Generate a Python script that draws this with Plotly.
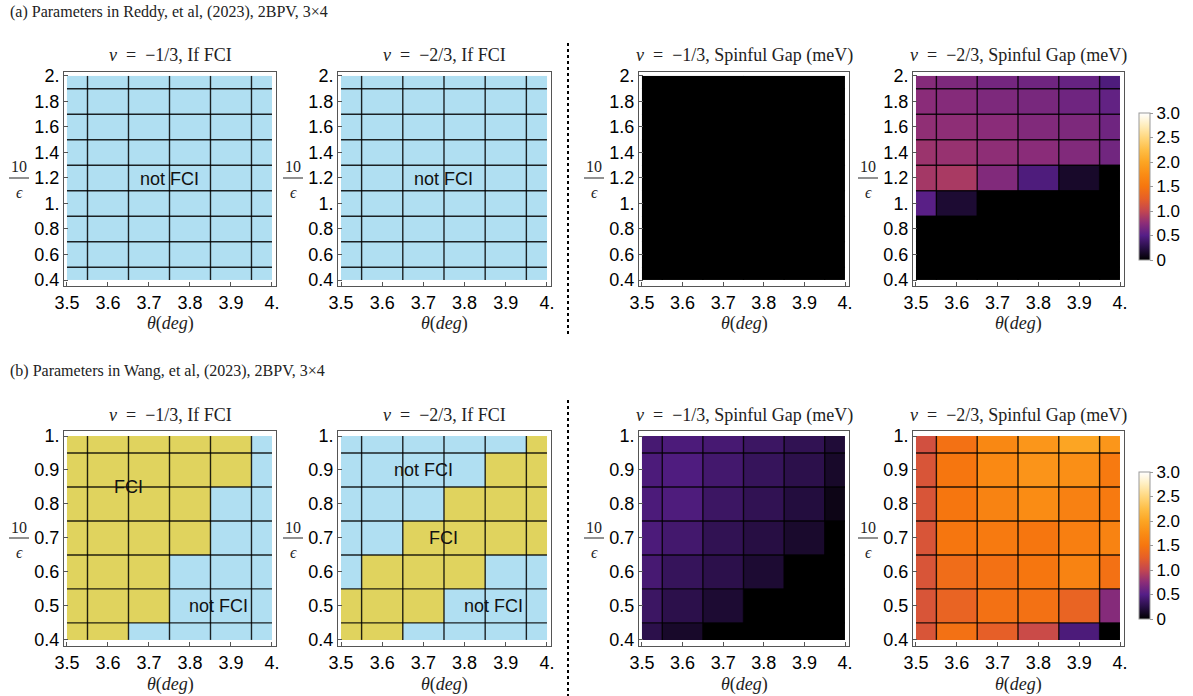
import numpy as np
import plotly.graph_objects as go

# ---------------- data ----------------
theta = [3.5, 3.6, 3.7, 3.8, 3.9, 4.0]
eps_a = [0.4, 0.6, 0.8, 1.0, 1.2, 1.4, 1.6, 1.8, 2.0]
eps_b = [0.4, 0.5, 0.6, 0.7, 0.8, 0.9, 1.0]

x_tickvals = [3.5, 3.6, 3.7, 3.8, 3.9, 4.0]
x_ticktext = ["3.5", "3.6", "3.7", "3.8", "3.9", "4."]
ya_tickvals = [0.4, 0.6, 0.8, 1.0, 1.2, 1.4, 1.6, 1.8, 2.0]
ya_ticktext = ["0.4", "0.6", "0.8", "1.", "1.2", "1.4", "1.6", "1.8", "2."]
yb_tickvals = [0.4, 0.5, 0.6, 0.7, 0.8, 0.9, 1.0]
yb_ticktext = ["0.4", "0.5", "0.6", "0.7", "0.8", "0.9", "1."]
cb_tickvals = [0, 0.5, 1.0, 1.5, 2.0, 2.5, 3.0]
cb_ticktext = ["0", "0.5", "1.0", "1.5", "2.0", "2.5", "3.0"]

# If FCI flags (1 = FCI, 0 = not FCI); rows from lowest 10/eps upward
fci_a_13 = [[0, 0, 0, 0, 0, 0] for _ in eps_a]
fci_a_23 = [[0, 0, 0, 0, 0, 0] for _ in eps_a]
fci_b_13 = [
    [1, 1, 0, 0, 0, 0],  # 0.4
    [1, 1, 1, 0, 0, 0],  # 0.5
    [1, 1, 1, 0, 0, 0],  # 0.6
    [1, 1, 1, 1, 0, 0],  # 0.7
    [1, 1, 1, 1, 0, 0],  # 0.8
    [1, 1, 1, 1, 1, 0],  # 0.9
    [1, 1, 1, 1, 1, 0],  # 1.0
]
fci_b_23 = [
    [1, 1, 0, 0, 0, 0],  # 0.4
    [1, 1, 1, 0, 0, 0],  # 0.5
    [0, 1, 1, 1, 0, 0],  # 0.6
    [0, 0, 1, 1, 1, 1],  # 0.7
    [0, 0, 0, 1, 1, 1],  # 0.8
    [0, 0, 0, 0, 1, 1],  # 0.9
    [0, 0, 0, 0, 0, 1],  # 1.0
]

# Spinful gap (meV); rows from lowest 10/eps upward
gap_a_13 = [[0, 0, 0, 0, 0, 0] for _ in eps_a]
gap_a_23 = [
    [0, 0, 0, 0, 0, 0],                    # 0.4
    [0, 0, 0, 0, 0, 0],                    # 0.6
    [0, 0, 0, 0, 0, 0],                    # 0.8
    [0.52, 0.18, 0, 0, 0, 0],              # 1.0
    [0.86, 0.88, 0.70, 0.46, 0.15, 0],     # 1.2
    [0.82, 0.80, 0.76, 0.74, 0.70, 0.63],  # 1.4
    [0.77, 0.76, 0.74, 0.70, 0.68, 0.62],  # 1.6
    [0.74, 0.72, 0.68, 0.66, 0.62, 0.56],  # 1.8
    [0.72, 0.68, 0.64, 0.62, 0.58, 0.46],  # 2.0
]
gap_b_13 = [
    [0.27, 0.15, 0, 0, 0, 0],              # 0.4
    [0.36, 0.27, 0.18, 0, 0, 0],           # 0.5
    [0.42, 0.33, 0.27, 0.18, 0, 0],        # 0.6
    [0.45, 0.40, 0.30, 0.24, 0.16, 0],     # 0.7
    [0.45, 0.46, 0.36, 0.30, 0.22, 0.08],  # 0.8
    [0.45, 0.47, 0.40, 0.33, 0.27, 0.15],  # 0.9
    [0.42, 0.45, 0.42, 0.36, 0.30, 0.20],  # 1.0
]
gap_b_23 = [
    [1.15, 1.45, 1.25, 1.05, 0.45, 0.0],   # 0.4
    [1.15, 1.30, 1.45, 1.45, 1.30, 0.72],  # 0.5
    [1.15, 1.40, 1.45, 1.50, 1.65, 1.45],  # 0.6
    [1.15, 1.50, 1.55, 1.50, 1.60, 1.65],  # 0.7
    [1.15, 1.50, 1.65, 1.75, 1.63, 1.55],  # 0.8
    [1.15, 1.50, 1.72, 1.83, 1.78, 1.55],  # 0.9
    [1.10, 1.45, 1.70, 1.85, 2.00, 1.85],  # 1.0
]

# ---------------- style ----------------
W, H = 1193, 696
SERIF = "Liberation Serif"
SANS = "Liberation Sans"
BLUE = "#b0dff2"
YELLOW = "#e0d35e"
sunset = [
    [0.0, "rgb(0,0,0)"],
    [0.083, "rgb(40,15,70)"],
    [0.167, "rgb(85,30,135)"],
    [0.25, "rgb(140,45,120)"],
    [0.333, "rgb(195,70,80)"],
    [0.417, "rgb(230,95,40)"],
    [0.5, "rgb(246,118,15)"],
    [0.583, "rgb(250,140,20)"],
    [0.667, "rgb(252,165,35)"],
    [0.75, "rgb(254,190,70)"],
    [0.833, "rgb(255,215,125)"],
    [0.917, "rgb(255,238,190)"],
    [1.0, "rgb(255,255,255)"],
]

col_px = [(64, 276), (338, 551), (639, 849), (913, 1124)]
row_px = [(72, 286), (431, 646)]
xrange_ = [3.4927, 4.0098]
yrange_a = [0.353, 2.031]
yrange_b = [0.382, 1.0147]


def edges(v):
    v = np.asarray(v, dtype=float)
    mids = (v[:-1] + v[1:]) / 2
    return np.concatenate([[v[0]], mids, [v[-1]]])


def mesh(xv, yv):
    xv = np.asarray(xv, float)
    yv = np.asarray(yv, float)
    xm = (xv[:-1] + xv[1:]) / 2
    ym = (yv[:-1] + yv[1:]) / 2
    xs, ys = [], []
    for x in xm:
        xs += [x, x, None]
        ys += [yv[0], yv[-1], None]
    for y in ym:
        xs += [xv[0], xv[-1], None]
        ys += [y, y, None]
    return xs, ys


EQ = "&nbsp;&nbsp;=&nbsp;&nbsp;"
panels = [
    # (row, col, kind, z, yvals, title)
    (0, 0, "fci", fci_a_13, eps_a, f"<i>ν</i>{EQ}−1/3, If FCI"),
    (0, 1, "fci", fci_a_23, eps_a, f"<i>ν</i>{EQ}−2/3, If FCI"),
    (0, 2, "gap", gap_a_13, eps_a, f"<i>ν</i>{EQ}−1/3, Spinful Gap (meV)"),
    (0, 3, "gap", gap_a_23, eps_a, f"<i>ν</i>{EQ}−2/3, Spinful Gap (meV)"),
    (1, 0, "fci", fci_b_13, eps_b, f"<i>ν</i>{EQ}−1/3, If FCI"),
    (1, 1, "fci", fci_b_23, eps_b, f"<i>ν</i>{EQ}−2/3, If FCI"),
    (1, 2, "gap", gap_b_13, eps_b, f"<i>ν</i>{EQ}−1/3, Spinful Gap (meV)"),
    (1, 3, "gap", gap_b_23, eps_b, f"<i>ν</i>{EQ}−2/3, Spinful Gap (meV)"),
]

fig = go.Figure()
layout = dict(
    width=W, height=H,
    margin=dict(l=0, r=0, t=0, b=0, autoexpand=False),
    paper_bgcolor="white", plot_bgcolor="white",
    showlegend=False,
)
annotations = []
shapes = []

for i, (r, c, kind, z, yv, title) in enumerate(panels):
    n = i + 1
    xa = "x" if n == 1 else f"x{n}"
    ya = "y" if n == 1 else f"y{n}"
    xe = edges(theta)
    ye = edges(yv)
    if kind == "fci":
        fig.add_trace(go.Heatmap(
            x=xe, y=ye, z=z, xaxis=xa, yaxis=ya,
            colorscale=[[0, BLUE], [1, YELLOW]], zmin=0, zmax=1,
            showscale=False, hoverinfo="skip"))
    else:
        fig.add_trace(go.Heatmap(
            x=xe, y=ye, z=z, xaxis=xa, yaxis=ya,
            coloraxis="coloraxis" if r == 0 else "coloraxis2",
            hoverinfo="skip"))
    mx, my = mesh(theta, yv)
    fig.add_trace(go.Scatter(
        x=mx, y=my, xaxis=xa, yaxis=ya, mode="lines",
        line=dict(color="rgba(0,0,0,0.85)", width=1.4),
        hoverinfo="skip"))

    x0, x1 = col_px[c]
    y0, y1 = row_px[r]
    common = dict(
        showline=True, mirror=True, linecolor="#555", linewidth=1,
        ticks="inside", ticklen=4, tickcolor="#555", showgrid=False,
        zeroline=False, fixedrange=True,
        tickfont=dict(family=SANS, size=18, color="black"),
    )
    layout["xaxis" if n == 1 else f"xaxis{n}"] = dict(
        domain=[x0 / W, x1 / W], anchor=ya, range=xrange_,
        tickvals=x_tickvals, ticktext=x_ticktext, **common)
    layout["yaxis" if n == 1 else f"yaxis{n}"] = dict(
        domain=[1 - y1 / H, 1 - y0 / H], anchor=xa,
        range=yrange_a if r == 0 else yrange_b,
        tickvals=ya_tickvals if r == 0 else yb_tickvals,
        ticktext=ya_ticktext if r == 0 else yb_ticktext, **common)

    # panel title
    title_y = 55 if r == 0 else 415
    annotations.append(dict(
        x=(x0 + x1) / 2 / W, y=1 - title_y / H, xref="paper", yref="paper",
        text=title, showarrow=False, xanchor="center", yanchor="middle",
        font=dict(family=SERIF, size=18, color="#222")))
    # x-axis title
    xt_y = 324 if r == 0 else 684
    annotations.append(dict(
        x=(x0 + x1) / 2 / W, y=1 - xt_y / H, xref="paper", yref="paper",
        text="<i>θ</i>(<i>deg</i>)", showarrow=False, xanchor="center",
        yanchor="middle", font=dict(family=SERIF, size=18, color="#222")))
    # y-axis title as fraction 10 / eps
    fx = x0 - 45
    fy = 178 if r == 0 else 538
    annotations.append(dict(
        x=fx / W, y=1 - (fy - 11) / H, xref="paper", yref="paper",
        text="10", showarrow=False, xanchor="center", yanchor="middle",
        font=dict(family=SERIF, size=16, color="#222")))
    annotations.append(dict(
        x=fx / W, y=1 - (fy + 14) / H, xref="paper", yref="paper",
        text="<i>ϵ</i>", showarrow=False, xanchor="center", yanchor="middle",
        font=dict(family=SERIF, size=16, color="#222")))
    shapes.append(dict(
        type="line", xref="paper", yref="paper",
        x0=(fx - 10) / W, x1=(fx + 10) / W, y0=1 - fy / H, y1=1 - fy / H,
        line=dict(color="#222", width=1)))

# in-panel labels
def lab(n, x, y, text):
    xa = "x" if n == 1 else f"x{n}"
    ya = "y" if n == 1 else f"y{n}"
    annotations.append(dict(
        x=x, y=y, xref=xa, yref=ya, text=text, showarrow=False,
        font=dict(family=SANS, size=18, color="#111")))

lab(1, 3.75, 1.19, "not FCI")
lab(2, 3.75, 1.19, "not FCI")
lab(5, 3.65, 0.85, "FCI")
lab(5, 3.87, 0.5, "not FCI")
lab(6, 3.70, 0.9, "not FCI")
lab(6, 3.75, 0.7, "FCI")
lab(6, 3.87, 0.5, "not FCI")

# section labels
annotations.append(dict(
    x=8 / W, y=1 - 12 / H, xref="paper", yref="paper", xanchor="left",
    yanchor="middle", showarrow=False,
    text="(a) Parameters in Reddy, et al, (2023), 2BPV, 3×4",
    font=dict(family=SERIF, size=16, color="#222")))
annotations.append(dict(
    x=8 / W, y=1 - 371 / H, xref="paper", yref="paper", xanchor="left",
    yanchor="middle", showarrow=False,
    text="(b) Parameters in Wang, et al, (2023), 2BPV, 3×4",
    font=dict(family=SERIF, size=16, color="#222")))

# dotted separators
for (ya0, ya1) in [(43, 337), (400, 696)]:
    shapes.append(dict(
        type="line", xref="paper", yref="paper",
        x0=568 / W, x1=568 / W, y0=1 - ya0 / H, y1=1 - ya1 / H,
        line=dict(color="black", width=2, dash="dot")))

cbar_common = dict(
    thickness=11, thicknessmode="pixels", len=147 / H, lenmode="fraction",
    x=1139 / W, xanchor="left", yanchor="middle", xpad=0, ypad=0,
    outlinecolor="#999", outlinewidth=1,
    tickvals=cb_tickvals, ticktext=cb_ticktext, ticks="outside",
    ticklen=3, tickcolor="#999",
    tickfont=dict(family=SANS, size=17, color="black"),
)
layout["coloraxis"] = dict(
    colorscale=sunset, cmin=0, cmax=3,
    colorbar=dict(y=1 - 186.5 / H, **cbar_common))
layout["coloraxis2"] = dict(
    colorscale=sunset, cmin=0, cmax=3,
    colorbar=dict(y=1 - 545.5 / H, **cbar_common))
layout["annotations"] = annotations
layout["shapes"] = shapes

fig.update_layout(**layout)
fig.write_html(
    "out.html",
    config={"displayModeBar": False},
    post_script="document.body.style.margin='0px';document.body.style.overflow='hidden';",
)
